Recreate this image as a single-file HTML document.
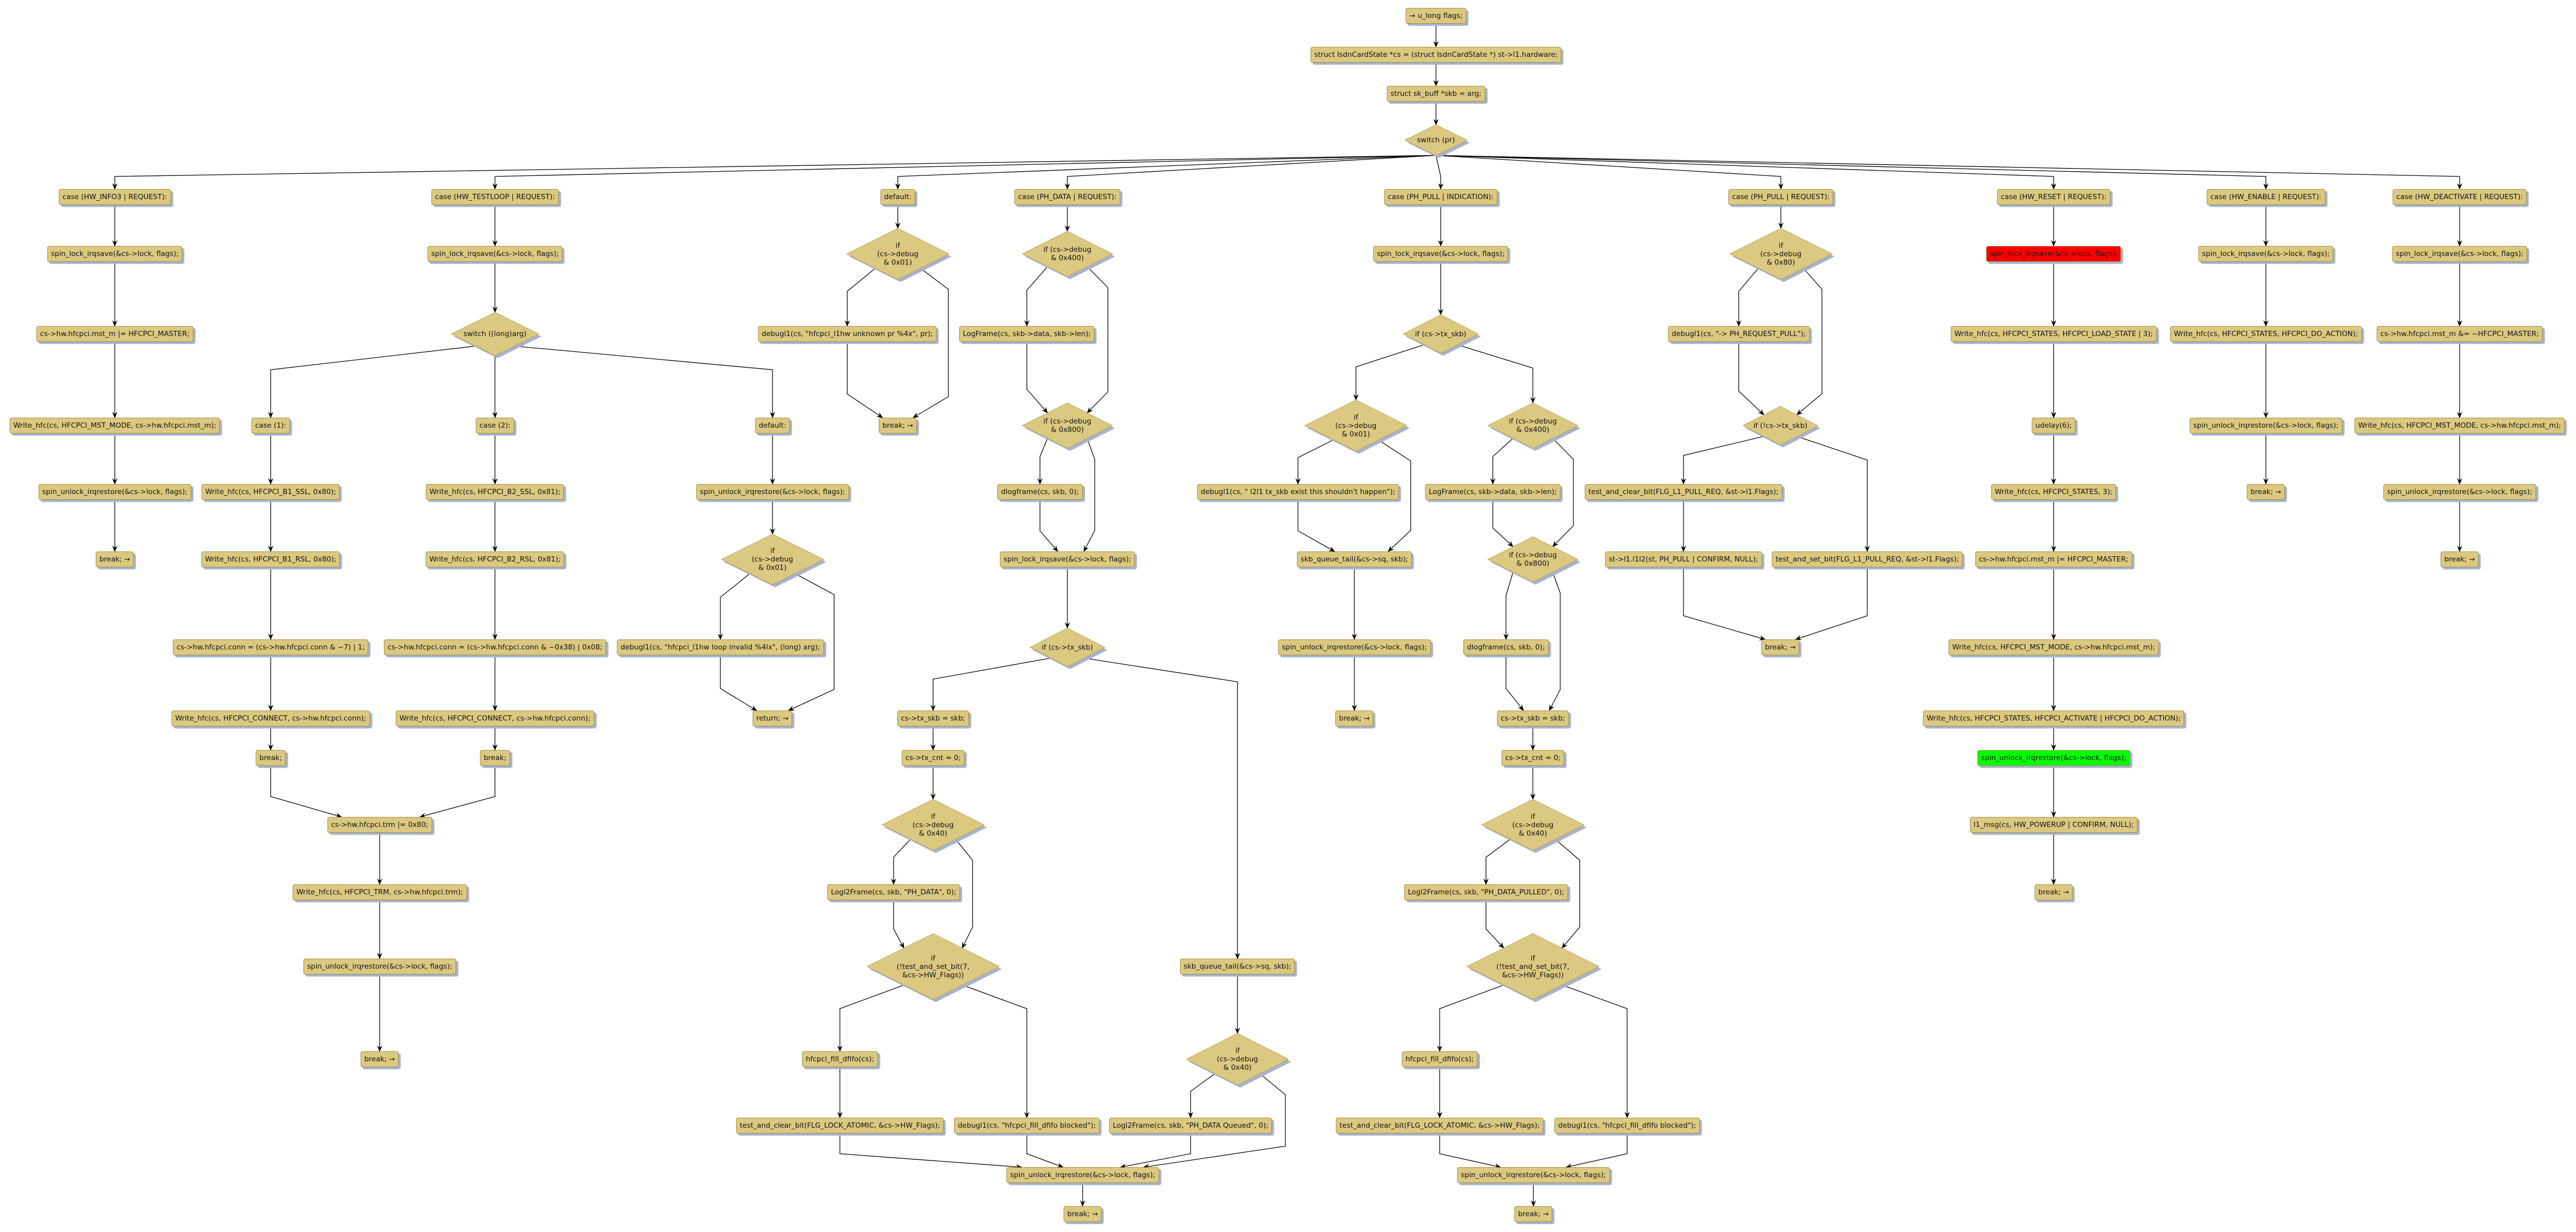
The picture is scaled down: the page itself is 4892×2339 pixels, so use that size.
<!DOCTYPE html>
<html><head><meta charset="utf-8">
<style>
html,body{margin:0;padding:0;background:#fff;}
body{width:4892px;height:2339px;position:relative;overflow:hidden;font-family:"DejaVu Sans","Liberation Sans",sans-serif;font-size:13.5px;color:#111;}
.n{position:absolute;transform:translate(-50%,-50%);white-space:nowrap;background:#dcc981;border:1px solid #a38d42;border-radius:4px;height:28px;line-height:28px;padding:0 6px;box-shadow:4px 4px 1px #a7b3cb;z-index:2;}
.red{background:#ff0000;}
.grn{background:#00ff00;}
.d{position:absolute;transform:translate(-50%,-50%);z-index:2;}
.d .sh{position:absolute;left:5px;top:5px;width:100%;height:100%;background:#a7b3cb;clip-path:polygon(50% 0,100% 50%,50% 100%,0 50%);}
.d svg{position:absolute;left:0;top:0;width:100%;height:100%;overflow:visible;}
.d polygon{fill:#dcc981;stroke:#b8a55a;stroke-width:1;vector-effect:non-scaling-stroke;}
.d span{position:absolute;left:0;top:0;width:100%;height:100%;display:flex;align-items:center;justify-content:center;text-align:center;line-height:16px;white-space:nowrap;}
#edges{position:absolute;left:0;top:0;z-index:1;}
</style></head><body>
<svg id="edges" width="4892" height="2339" xmlns="http://www.w3.org/2000/svg">
<defs><marker id="ah" markerWidth="12" markerHeight="10" refX="11" refY="5" orient="auto" markerUnits="userSpaceOnUse"><path d="M0,0 L12,5 L0,10 L4,5 z" fill="#000"/></marker></defs>
<g id="eg" fill="none" stroke="#000" stroke-width="1.3"></g>
</svg>

<div class="n" id="t1" style="left:2727px;top:30px">→ u_long flags;</div>
<div class="n" id="t2" style="left:2727px;top:104px">struct IsdnCardState *cs = (struct IsdnCardState *) st-&gt;l1.hardware;</div>
<div class="n" id="t3" style="left:2727px;top:178px">struct sk_buff *skb = arg;</div>
<div class="d" id="sw" style="left:2727px;top:266px;width:118px;height:58px"><div class="sh"></div><svg viewBox="0 0 100 100" preserveAspectRatio="none"><polygon points="50,0 100,50 50,100 0,50"/></svg><span>switch (pr)</span></div>

<!-- HW_INFO3 -->
<div class="n" id="a0" style="left:218px;top:374px">case (HW_INFO3 | REQUEST):</div>
<div class="n" id="a1" style="left:218px;top:482px">spin_lock_irqsave(&amp;cs-&gt;lock, flags);</div>
<div class="n" id="a2" style="left:218px;top:634px">cs-&gt;hw.hfcpci.mst_m |= HFCPCI_MASTER;</div>
<div class="n" id="a3" style="left:218px;top:808px">Write_hfc(cs, HFCPCI_MST_MODE, cs-&gt;hw.hfcpci.mst_m);</div>
<div class="n" id="a4" style="left:218px;top:934px">spin_unlock_irqrestore(&amp;cs-&gt;lock, flags);</div>
<div class="n" id="a5" style="left:218px;top:1062px">break; →</div>

<!-- HW_TESTLOOP -->
<div class="n" id="b0" style="left:940px;top:374px">case (HW_TESTLOOP | REQUEST):</div>
<div class="n" id="b1" style="left:940px;top:482px">spin_lock_irqsave(&amp;cs-&gt;lock, flags);</div>
<div class="d" id="bsw" style="left:940px;top:634px;width:166px;height:82px"><div class="sh"></div><svg viewBox="0 0 100 100" preserveAspectRatio="none"><polygon points="50,0 100,50 50,100 0,50"/></svg><span>switch ((long)arg)</span></div>
<div class="n" id="b2" style="left:514px;top:808px">case (1):</div>
<div class="n" id="b21" style="left:514px;top:934px">Write_hfc(cs, HFCPCI_B1_SSL, 0x80);</div>
<div class="n" id="b22" style="left:514px;top:1062px">Write_hfc(cs, HFCPCI_B1_RSL, 0x80);</div>
<div class="n" id="b23" style="left:514px;top:1229px">cs-&gt;hw.hfcpci.conn = (cs-&gt;hw.hfcpci.conn &amp; ~7) | 1;</div>
<div class="n" id="b24" style="left:514px;top:1364px">Write_hfc(cs, HFCPCI_CONNECT, cs-&gt;hw.hfcpci.conn);</div>
<div class="n" id="b25" style="left:514px;top:1439px">break;</div>
<div class="n" id="b3" style="left:940px;top:808px">case (2):</div>
<div class="n" id="b31" style="left:940px;top:934px">Write_hfc(cs, HFCPCI_B2_SSL, 0x81);</div>
<div class="n" id="b32" style="left:940px;top:1062px">Write_hfc(cs, HFCPCI_B2_RSL, 0x81);</div>
<div class="n" id="b33" style="left:940px;top:1229px">cs-&gt;hw.hfcpci.conn = (cs-&gt;hw.hfcpci.conn &amp; ~0x38) | 0x08;</div>
<div class="n" id="b34" style="left:940px;top:1364px">Write_hfc(cs, HFCPCI_CONNECT, cs-&gt;hw.hfcpci.conn);</div>
<div class="n" id="b35" style="left:940px;top:1439px">break;</div>
<div class="n" id="b4" style="left:1467px;top:808px">default:</div>
<div class="n" id="b41" style="left:1467px;top:934px">spin_unlock_irqrestore(&amp;cs-&gt;lock, flags);</div>
<div class="d" id="b42" style="left:1467px;top:1062px;width:194px;height:96px"><div class="sh"></div><svg viewBox="0 0 100 100" preserveAspectRatio="none"><polygon points="50,0 100,50 50,100 0,50"/></svg><span>if<br>(cs-&gt;debug<br>&amp; 0x01)</span></div>
<div class="n" id="b43" style="left:1368px;top:1229px">debugl1(cs, "hfcpci_l1hw loop invalid %4lx", (long) arg);</div>
<div class="n" id="b44" style="left:1467px;top:1364px">return; →</div>
<div class="n" id="bm1" style="left:721px;top:1566px">cs-&gt;hw.hfcpci.trm |= 0x80;</div>
<div class="n" id="bm2" style="left:721px;top:1694px">Write_hfc(cs, HFCPCI_TRM, cs-&gt;hw.hfcpci.trm);</div>
<div class="n" id="bm3" style="left:721px;top:1835px">spin_unlock_irqrestore(&amp;cs-&gt;lock, flags);</div>
<div class="n" id="bm4" style="left:721px;top:2011px">break; →</div>

<!-- default -->
<div class="n" id="c0" style="left:1705px;top:374px">default:</div>
<div class="d" id="cd" style="left:1705px;top:482px;width:194px;height:97px"><div class="sh"></div><svg viewBox="0 0 100 100" preserveAspectRatio="none"><polygon points="50,0 100,50 50,100 0,50"/></svg><span>if<br>(cs-&gt;debug<br>&amp; 0x01)</span></div>
<div class="n" id="c1" style="left:1609px;top:634px">debugl1(cs, "hfcpci_l1hw unknown pr %4x", pr);</div>
<div class="n" id="c2" style="left:1705px;top:808px">break; →</div>

<!-- PH_DATA -->
<div class="n" id="d0" style="left:2027px;top:374px">case (PH_DATA | REQUEST):</div>
<div class="d" id="dd1" style="left:2027px;top:482px;width:171px;height:86px"><div class="sh"></div><svg viewBox="0 0 100 100" preserveAspectRatio="none"><polygon points="50,0 100,50 50,100 0,50"/></svg><span>if (cs-&gt;debug<br>&amp; 0x400)</span></div>
<div class="n" id="d1" style="left:1950px;top:634px">LogFrame(cs, skb-&gt;data, skb-&gt;len);</div>
<div class="d" id="dd2" style="left:2027px;top:808px;width:171px;height:86px"><div class="sh"></div><svg viewBox="0 0 100 100" preserveAspectRatio="none"><polygon points="50,0 100,50 50,100 0,50"/></svg><span>if (cs-&gt;debug<br>&amp; 0x800)</span></div>
<div class="n" id="d2" style="left:1975px;top:934px">dlogframe(cs, skb, 0);</div>
<div class="n" id="d3" style="left:2027px;top:1062px">spin_lock_irqsave(&amp;cs-&gt;lock, flags);</div>
<div class="d" id="dd3" style="left:2027px;top:1229px;width:142px;height:73px"><div class="sh"></div><svg viewBox="0 0 100 100" preserveAspectRatio="none"><polygon points="50,0 100,50 50,100 0,50"/></svg><span>if (cs-&gt;tx_skb)</span></div>
<div class="n" id="d4" style="left:1772px;top:1364px">cs-&gt;tx_skb = skb;</div>
<div class="n" id="d5" style="left:1772px;top:1439px">cs-&gt;tx_cnt = 0;</div>
<div class="d" id="dd4" style="left:1772px;top:1566px;width:194px;height:97px"><div class="sh"></div><svg viewBox="0 0 100 100" preserveAspectRatio="none"><polygon points="50,0 100,50 50,100 0,50"/></svg><span>if<br>(cs-&gt;debug<br>&amp; 0x40)</span></div>
<div class="n" id="d6" style="left:1697px;top:1694px">Logl2Frame(cs, skb, "PH_DATA", 0);</div>
<div class="d" id="dd5" style="left:1772px;top:1835px;width:251px;height:125px"><div class="sh"></div><svg viewBox="0 0 100 100" preserveAspectRatio="none"><polygon points="50,0 100,50 50,100 0,50"/></svg><span>if<br>(!test_and_set_bit(7,<br>&amp;cs-&gt;HW_Flags))</span></div>
<div class="n" id="d7" style="left:1595px;top:2011px">hfcpci_fill_dfifo(cs);</div>
<div class="n" id="d8" style="left:1595px;top:2137px">test_and_clear_bit(FLG_LOCK_ATOMIC, &amp;cs-&gt;HW_Flags);</div>
<div class="n" id="d9" style="left:1950px;top:2137px">debugl1(cs, "hfcpci_fill_dfifo blocked");</div>
<div class="n" id="d10" style="left:2350px;top:1835px">skb_queue_tail(&amp;cs-&gt;sq, skb);</div>
<div class="d" id="dd6" style="left:2350px;top:2011px;width:194px;height:98px"><div class="sh"></div><svg viewBox="0 0 100 100" preserveAspectRatio="none"><polygon points="50,0 100,50 50,100 0,50"/></svg><span>if<br>(cs-&gt;debug<br>&amp; 0x40)</span></div>
<div class="n" id="d11" style="left:2261px;top:2137px">Logl2Frame(cs, skb, "PH_DATA Queued", 0);</div>
<div class="n" id="d13" style="left:2056px;top:2231px">spin_unlock_irqrestore(&amp;cs-&gt;lock, flags);</div>
<div class="n" id="d14" style="left:2056px;top:2305px">break; →</div>

<!-- PH_PULL | INDICATION -->
<div class="n" id="e0" style="left:2736px;top:374px">case (PH_PULL | INDICATION):</div>
<div class="n" id="e1" style="left:2736px;top:482px">spin_lock_irqsave(&amp;cs-&gt;lock, flags);</div>
<div class="d" id="ed1" style="left:2736px;top:634px;width:142px;height:73px"><div class="sh"></div><svg viewBox="0 0 100 100" preserveAspectRatio="none"><polygon points="50,0 100,50 50,100 0,50"/></svg><span>if (cs-&gt;tx_skb)</span></div>
<div class="d" id="ed2" style="left:2575px;top:808px;width:194px;height:97px"><div class="sh"></div><svg viewBox="0 0 100 100" preserveAspectRatio="none"><polygon points="50,0 100,50 50,100 0,50"/></svg><span>if<br>(cs-&gt;debug<br>&amp; 0x01)</span></div>
<div class="n" id="e2" style="left:2465px;top:934px">debugl1(cs, " l2l1 tx_skb exist this shouldn't happen");</div>
<div class="n" id="e3" style="left:2572px;top:1062px">skb_queue_tail(&amp;cs-&gt;sq, skb);</div>
<div class="n" id="e4" style="left:2572px;top:1229px">spin_unlock_irqrestore(&amp;cs-&gt;lock, flags);</div>
<div class="n" id="e5" style="left:2572px;top:1364px">break; →</div>
<div class="d" id="ed3" style="left:2911px;top:808px;width:171px;height:86px"><div class="sh"></div><svg viewBox="0 0 100 100" preserveAspectRatio="none"><polygon points="50,0 100,50 50,100 0,50"/></svg><span>if (cs-&gt;debug<br>&amp; 0x400)</span></div>
<div class="n" id="e6" style="left:2835px;top:934px">LogFrame(cs, skb-&gt;data, skb-&gt;len);</div>
<div class="d" id="ed4" style="left:2911px;top:1062px;width:171px;height:86px"><div class="sh"></div><svg viewBox="0 0 100 100" preserveAspectRatio="none"><polygon points="50,0 100,50 50,100 0,50"/></svg><span>if (cs-&gt;debug<br>&amp; 0x800)</span></div>
<div class="n" id="e7" style="left:2860px;top:1229px">dlogframe(cs, skb, 0);</div>
<div class="n" id="e8" style="left:2911px;top:1364px">cs-&gt;tx_skb = skb;</div>
<div class="n" id="e9" style="left:2911px;top:1439px">cs-&gt;tx_cnt = 0;</div>
<div class="d" id="ed5" style="left:2911px;top:1566px;width:194px;height:97px"><div class="sh"></div><svg viewBox="0 0 100 100" preserveAspectRatio="none"><polygon points="50,0 100,50 50,100 0,50"/></svg><span>if<br>(cs-&gt;debug<br>&amp; 0x40)</span></div>
<div class="n" id="e10" style="left:2822px;top:1694px">Logl2Frame(cs, skb, "PH_DATA_PULLED", 0);</div>
<div class="d" id="ed6" style="left:2911px;top:1835px;width:251px;height:125px"><div class="sh"></div><svg viewBox="0 0 100 100" preserveAspectRatio="none"><polygon points="50,0 100,50 50,100 0,50"/></svg><span>if<br>(!test_and_set_bit(7,<br>&amp;cs-&gt;HW_Flags))</span></div>
<div class="n" id="e11" style="left:2734px;top:2011px">hfcpci_fill_dfifo(cs);</div>
<div class="n" id="e12" style="left:2734px;top:2137px">test_and_clear_bit(FLG_LOCK_ATOMIC, &amp;cs-&gt;HW_Flags);</div>
<div class="n" id="e13" style="left:3090px;top:2137px">debugl1(cs, "hfcpci_fill_dfifo blocked");</div>
<div class="n" id="e14" style="left:2912px;top:2231px">spin_unlock_irqrestore(&amp;cs-&gt;lock, flags);</div>
<div class="n" id="e15" style="left:2912px;top:2305px">break; →</div>

<!-- PH_PULL | REQUEST -->
<div class="n" id="f0" style="left:3382px;top:374px">case (PH_PULL | REQUEST):</div>
<div class="d" id="fd1" style="left:3382px;top:482px;width:194px;height:97px"><div class="sh"></div><svg viewBox="0 0 100 100" preserveAspectRatio="none"><polygon points="50,0 100,50 50,100 0,50"/></svg><span>if<br>(cs-&gt;debug<br>&amp; 0x80)</span></div>
<div class="n" id="f1" style="left:3302px;top:634px">debugl1(cs, "-&gt; PH_REQUEST_PULL");</div>
<div class="d" id="fd2" style="left:3381px;top:808px;width:142px;height:73px"><div class="sh"></div><svg viewBox="0 0 100 100" preserveAspectRatio="none"><polygon points="50,0 100,50 50,100 0,50"/></svg><span>if (!cs-&gt;tx_skb)</span></div>
<div class="n" id="f2" style="left:3197px;top:934px">test_and_clear_bit(FLG_L1_PULL_REQ, &amp;st-&gt;l1.Flags);</div>
<div class="n" id="f3" style="left:3197px;top:1062px">st-&gt;l1.l1l2(st, PH_PULL | CONFIRM, NULL);</div>
<div class="n" id="f4" style="left:3546px;top:1062px">test_and_set_bit(FLG_L1_PULL_REQ, &amp;st-&gt;l1.Flags);</div>
<div class="n" id="f5" style="left:3381px;top:1229px">break; →</div>

<!-- HW_RESET -->
<div class="n" id="g0" style="left:3900px;top:374px">case (HW_RESET | REQUEST):</div>
<div class="n red" id="g1" style="left:3900px;top:482px">spin_lock_irqsave(&amp;cs-&gt;lock, flags);</div>
<div class="n" id="g2" style="left:3900px;top:634px">Write_hfc(cs, HFCPCI_STATES, HFCPCI_LOAD_STATE | 3);</div>
<div class="n" id="g3" style="left:3900px;top:808px">udelay(6);</div>
<div class="n" id="g4" style="left:3900px;top:934px">Write_hfc(cs, HFCPCI_STATES, 3);</div>
<div class="n" id="g5" style="left:3900px;top:1062px">cs-&gt;hw.hfcpci.mst_m |= HFCPCI_MASTER;</div>
<div class="n" id="g6" style="left:3900px;top:1229px">Write_hfc(cs, HFCPCI_MST_MODE, cs-&gt;hw.hfcpci.mst_m);</div>
<div class="n" id="g7" style="left:3900px;top:1364px">Write_hfc(cs, HFCPCI_STATES, HFCPCI_ACTIVATE | HFCPCI_DO_ACTION);</div>
<div class="n grn" id="g8" style="left:3900px;top:1439px">spin_unlock_irqrestore(&amp;cs-&gt;lock, flags);</div>
<div class="n" id="g9" style="left:3900px;top:1566px">l1_msg(cs, HW_POWERUP | CONFIRM, NULL);</div>
<div class="n" id="g10" style="left:3900px;top:1694px">break; →</div>

<!-- HW_ENABLE -->
<div class="n" id="h0" style="left:4303px;top:374px">case (HW_ENABLE | REQUEST):</div>
<div class="n" id="h1" style="left:4303px;top:482px">spin_lock_irqsave(&amp;cs-&gt;lock, flags);</div>
<div class="n" id="h2" style="left:4303px;top:634px">Write_hfc(cs, HFCPCI_STATES, HFCPCI_DO_ACTION);</div>
<div class="n" id="h3" style="left:4303px;top:808px">spin_unlock_irqrestore(&amp;cs-&gt;lock, flags);</div>
<div class="n" id="h4" style="left:4303px;top:934px">break; →</div>

<!-- HW_DEACTIVATE -->
<div class="n" id="i0" style="left:4671px;top:374px">case (HW_DEACTIVATE | REQUEST):</div>
<div class="n" id="i1" style="left:4671px;top:482px">spin_lock_irqsave(&amp;cs-&gt;lock, flags);</div>
<div class="n" id="i2" style="left:4671px;top:634px">cs-&gt;hw.hfcpci.mst_m &amp;= ~HFCPCI_MASTER;</div>
<div class="n" id="i3" style="left:4671px;top:808px">Write_hfc(cs, HFCPCI_MST_MODE, cs-&gt;hw.hfcpci.mst_m);</div>
<div class="n" id="i4" style="left:4671px;top:934px">spin_unlock_irqrestore(&amp;cs-&gt;lock, flags);</div>
<div class="n" id="i5" style="left:4671px;top:1062px">break; →</div>

<script>
(function(){
var g=document.getElementById('eg');
function R(id){var e=document.getElementById(id);var r=e.getBoundingClientRect();
 return {cx:r.left+r.width/2,cy:r.top+r.height/2,w:r.width,h:r.height,t:r.top,b:r.bottom,d:e.classList.contains('d')};}
function cl(v,m){return Math.max(-m,Math.min(m,v));}
function sgn(v){return v<0?-1:1;}
function draw(p){var pl=document.createElementNS('http://www.w3.org/2000/svg','polyline');
 pl.setAttribute('points',p.map(function(q){return q[0].toFixed(1)+','+q[1].toFixed(1);}).join(' '));
 pl.setAttribute('marker-end','url(#ah)');g.appendChild(pl);}
function E(a,b,bow,fan){
 var s=R(a),t=R(b),p=[];
 if(fan){var st=[s.cx,s.b];draw([st,[t.cx,t.t-24],[t.cx,t.t]]);return;}
 if(bow){
  var L=s.cx+bow,dir=sgn(bow);
  var st=s.d?[s.cx+dir*s.w*0.22,s.cy+s.h*0.28]:[s.cx,s.b];
  var en;
  if(t.d){var d2=sgn(L-t.cx);en=[t.cx+d2*t.w*0.22,t.cy-t.h*0.28];}
  else en=[t.cx+cl((L-t.cx)*0.6,t.w*0.4),t.t];
  var dy=en[1]-st[1];var k=Math.min(40,dy*0.3);
  draw([st,[L,st[1]+k],[L,en[1]-k],en]);return;
 }
 if(Math.abs(s.cx-t.cx)<4){draw([[s.cx,s.b],[s.cx,t.t]]);return;}
 if(s.d){
  var dir=sgn(t.cx-s.cx);
  var st=[s.cx+dir*s.w*0.22,s.cy+s.h*0.28];
  var en=[t.cx,t.t];
  var k=Math.min(45,(en[1]-st[1])*0.4);
  draw([st,[t.cx,st[1]+k],en]);return;
 }
 var st=[s.cx,s.b],en;
 if(t.d){var d2=sgn(s.cx-t.cx);en=[t.cx+d2*t.w*0.22,t.cy-t.h*0.28];}
 else en=[t.cx+cl((s.cx-t.cx)*0.35,t.w*0.4),t.t];
 var k=Math.min(45,(en[1]-st[1])*0.4);
 draw([st,[s.cx,en[1]-k],en]);
}
var L=[
['t1','t2'],['t2','t3'],['t3','sw'],
['a0','a1'],['a1','a2'],['a2','a3'],['a3','a4'],['a4','a5'],
['b0','b1'],['b1','bsw'],['bsw','b2'],['bsw','b3'],['bsw','b4'],
['b2','b21'],['b21','b22'],['b22','b23'],['b23','b24'],['b24','b25'],
['b3','b31'],['b31','b32'],['b32','b33'],['b33','b34'],['b34','b35'],
['b4','b41'],['b41','b42'],['b42','b43'],['b42','b44',117],['b43','b44'],
['b25','bm1'],['b35','bm1'],['bm1','bm2'],['bm2','bm3'],['bm3','bm4'],
['c0','cd'],['cd','c1'],['cd','c2',96],['c1','c2'],
['d0','dd1'],['dd1','d1'],['dd1','dd2',77],['d1','dd2'],['dd2','d2'],['dd2','d3',52],['d2','d3'],
['d3','dd3'],['dd3','d4'],['dd3','d10'],['d4','d5'],['d5','dd4'],['dd4','d6'],['dd4','dd5',75],['d6','dd5'],
['dd5','d7'],['dd5','d9'],['d7','d8'],['d8','d13'],['d9','d13'],['d10','dd6'],['dd6','d11'],['dd6','d13',91],['d11','d13'],['d13','d14'],
['e0','e1'],['e1','ed1'],['ed1','ed2'],['ed1','ed3'],['ed2','e2'],['ed2','e3',104],['e2','e3'],['e3','e4'],['e4','e5'],
['ed3','e6'],['ed3','ed4',77],['e6','ed4'],['ed4','e7'],['ed4','e8',52],['e7','e8'],['e8','e9'],['e9','ed5'],
['ed5','e10'],['ed5','ed6',89],['e10','ed6'],['ed6','e11'],['ed6','e13'],['e11','e12'],['e12','e14'],['e13','e14'],['e14','e15'],
['f0','fd1'],['fd1','f1'],['fd1','fd2',78],['f1','fd2'],['fd2','f2'],['fd2','f4'],['f2','f3'],['f3','f5'],['f4','f5'],
['g0','g1'],['g1','g2'],['g2','g3'],['g3','g4'],['g4','g5'],['g5','g6'],['g6','g7'],['g7','g8'],['g8','g9'],['g9','g10'],
['h0','h1'],['h1','h2'],['h2','h3'],['h3','h4'],
['i0','i1'],['i1','i2'],['i2','i3'],['i3','i4'],['i4','i5']
];
L.forEach(function(e){E(e[0],e[1],e[2]);});
['a0','b0','c0','d0','e0','f0','g0','h0','i0'].forEach(function(c){E('sw',c,0,true);});
})();
</script>
</body></html>
